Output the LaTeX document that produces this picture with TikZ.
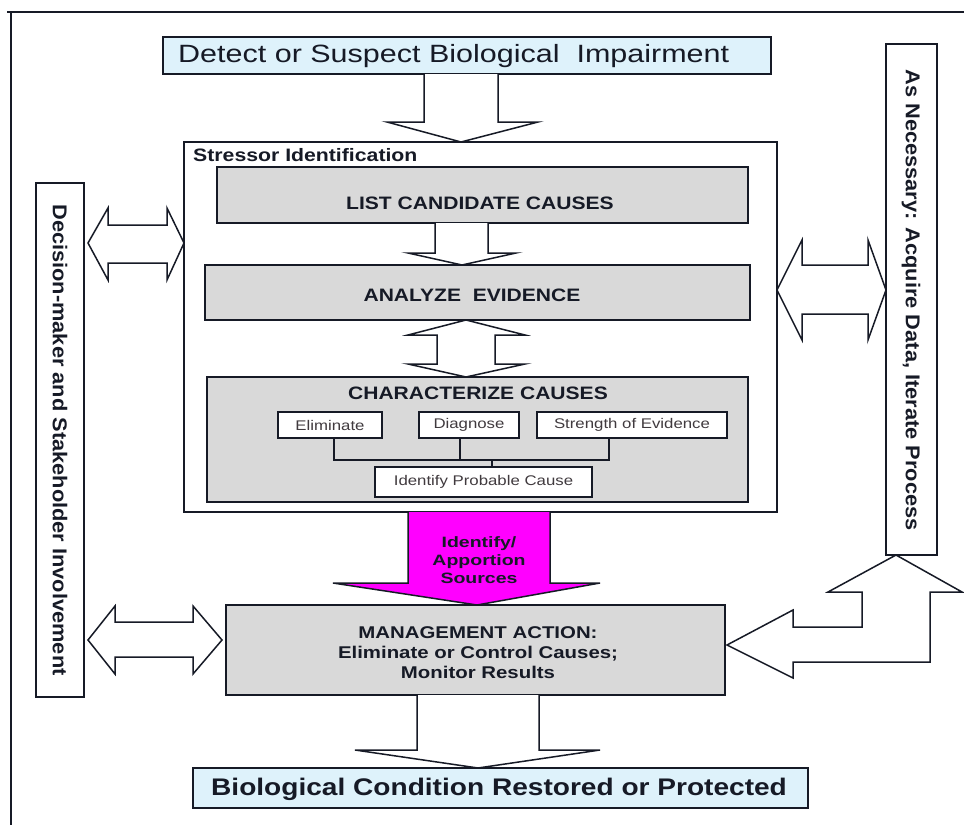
\documentclass[tikz,border=0pt]{standalone}
\usepackage{fontspec}
\setmainfont{Liberation Sans}
\usetikzlibrary{calc}
\definecolor{skyfill}{RGB}{222,242,251}
\definecolor{panelfill}{RGB}{217,217,217}
\definecolor{ink}{RGB}{22,26,38}
\definecolor{hotpink}{RGB}{255,0,255}
\definecolor{subtext}{RGB}{64,58,62}
\newcommand\wide[2]{\scalebox{#1}[1]{#2}}
\newcommand\pxfont[1]{\fontsize{#1}{#1}\selectfont}
\begin{document}
\begin{tikzpicture}[x=1pt,y=-1pt,line join=miter,
  frame/.style={draw=ink,line width=2pt,inner sep=0pt,outer sep=0pt},
  skybox/.style={frame,fill=skyfill},
  panel/.style={frame,fill=panelfill},
  whitebox/.style={frame,fill=white},
  subbox/.style={draw=ink,line width=1.6pt,fill=white,inner sep=0pt,outer sep=0pt},
  blockarrow/.style={draw=ink,line width=1.5pt,fill=white},
  tree/.style={draw=ink,line width=1.6pt},
  label/.style={text=ink,inner sep=0pt},
]
\useasboundingbox (0,0) rectangle (964,825);
\fill[white] (0,0) rectangle (964,825);

% outer frame
\draw[ink,line width=2.5pt] (7,12) -- (964,12);
\draw[ink,line width=2pt] (11,11) -- (11,825);

% boxes
\node[skybox,minimum width=608,minimum height=37] (detect) at (467,55.5) {};
\node[whitebox,line width=1.6pt,minimum width=593,minimum height=370] (stress) at (480.5,327) {};
\node[panel,minimum width=531,minimum height=56] (list) at (482.5,195) {};
\node[panel,minimum width=545,minimum height=55] (analyze) at (477.5,292.5) {};
\node[panel,minimum width=541,minimum height=125] (char) at (477.5,439.5) {};
\node[subbox,minimum width=104,minimum height=26] (elim) at (330,425) {};
\node[subbox,minimum width=100,minimum height=26] (diag) at (469,425) {};
\node[subbox,minimum width=190,minimum height=26] (strength) at (632,425) {};
\node[subbox,minimum width=217,minimum height=30] (ipc) at (483.5,482) {};
\node[panel,minimum width=499,minimum height=90] (mgmt) at (475.5,650) {};
\node[skybox,minimum width=615,minimum height=40] (restored) at (500.5,788) {};
\node[whitebox,minimum width=48,minimum height=514] (dm) at (60,440) {};
\node[whitebox,minimum width=51,minimum height=511] (acq) at (911.5,299.5) {};

% texts
\node[label,anchor=west,font=\pxfont{25}] (detecttxt) at (178,56) {\wide{1.22}{Detect or Suspect Biological\ \ Impairment}};
\node[label,anchor=west,font=\pxfont{18}\bfseries] (stresstxt) at (193,155) {\wide{1.18}{Stressor Identification}};
\node[label,font=\pxfont{18}\bfseries] (listtxt) at (480,203) {\wide{1.17}{LIST CANDIDATE CAUSES}};
\node[label,font=\pxfont{18}\bfseries] (analyzetxt) at (472,295) {\wide{1.17}{ANALYZE\ \ EVIDENCE}};
\node[label,font=\pxfont{18}\bfseries] (chartxt) at (478,393) {\wide{1.17}{CHARACTERIZE CAUSES}};
\node[label,text=subtext,font=\pxfont{14}] (elimtxt) at (elim) {\wide{1.2}{Eliminate}};
\node[label,text=subtext,font=\pxfont{14}] (diagtxt) at (diag) {\wide{1.2}{Diagnose}};
\node[label,text=subtext,font=\pxfont{14}] (strengthtxt) at (strength) {\wide{1.2}{Strength of Evidence}};
\node[label,text=subtext,font=\pxfont{14}] (ipctxt) at (ipc) {\wide{1.2}{Identify Probable Cause}};
\node[label,font=\pxfont{17}\bfseries,align=center] (mgmttxt) at (478,653)
  {\wide{1.2}{MANAGEMENT ACTION:}\\[3pt]\wide{1.2}{Eliminate or Control Causes;}\\[3pt]\wide{1.2}{Monitor Results}};
\node[label,anchor=west,font=\pxfont{24}\bfseries] (restoredtxt) at (211,789) {\wide{1.17}{Biological Condition Restored or Protected}};
\node[label,rotate=-90,font=\pxfont{20}\bfseries] (dmtxt) at (60,440) {\wide{1.09}{Decision-maker and Stakeholder Involvement}};
\node[label,rotate=-90,font=\pxfont{20}\bfseries] (acqtxt) at (911,300) {\wide{1.09}{As Necessary: Acquire Data, Iterate Process}};

% tree inside the characterize panel
\draw[tree] ([xshift=4pt]elim.south) -- ++(0,22) -| ([xshift=-23pt]strength.south);
\draw[tree] ([xshift=-9pt]diag.south) -- ++(0,22);
\draw[tree] ([xshift=8.5pt]ipc.north) -- ++(0,-7);

% block arrows
\draw[blockarrow] let \p1=(detect.south), \p2=(stress.north) in
  (424pt,\y1) -- (424pt,\y2+20pt) -- (387pt,\y2+20pt) -- (461pt,\y2) -- (538pt,\y2+20pt) -- (498pt,\y2+20pt) -- (498pt,\y1);
\draw[blockarrow] let \p1=(list.south), \p2=(analyze.north) in
  (435pt,\y1) -- (435pt,\y2+12pt) -- (408pt,\y2+12pt) -- (462pt,\y2) -- (516pt,\y2+12pt) -- (488pt,\y2+12pt) -- (488pt,\y1);
\draw[blockarrow] let \p1=(analyze.south), \p2=(char.north) in
  (466pt,\y1) -- (525pt,\y1-15pt) -- (495pt,\y1-15pt) -- (495pt,\y2+13pt) -- (525pt,\y2+13pt) -- (466pt,\y2)
  -- (408pt,\y2+13pt) -- (437pt,\y2+13pt) -- (437pt,\y1-15pt) -- (408pt,\y1-15pt) -- cycle;
\draw[blockarrow,fill=hotpink] let \p1=(stress.south), \p2=(mgmt.north) in
  (408pt,\y1) -- (408pt,\y2+22pt) -- (333pt,\y2+22pt) -- (477pt,\y2) -- (600pt,\y2+22pt) -- (550pt,\y2+22pt) -- (550pt,\y1);
\node[label,font=\pxfont{15}\bfseries,align=center] (sourcetxt) at (479,560)
  {\wide{1.3}{Identify/}\\[3pt]\wide{1.3}{Apportion}\\[3pt]\wide{1.3}{Sources}};
\draw[blockarrow] let \p1=(mgmt.south), \p2=(restored.north) in
  (417pt,\y1) -- (417pt,\y2+18pt) -- (355pt,\y2+18pt) -- (478pt,\y2) -- (600pt,\y2+18pt) -- (539pt,\y2+18pt) -- (539pt,\y1);
\draw[blockarrow] let \p1=(dm.east), \p2=(stress.west) in
  (\x1+4pt,-243pt) -- (108pt,-208pt) -- (108pt,-225pt) -- (167pt,-225pt) -- (167pt,-208pt) -- (\x2,-243pt)
  -- (167pt,-280pt) -- (167pt,-263pt) -- (108pt,-263pt) -- (108pt,-280pt) -- cycle;
\draw[blockarrow] let \p1=(dm.east), \p2=(mgmt.west) in
  (\x1+4pt,-640pt) -- (115pt,-606pt) -- (115pt,-622pt) -- (193pt,-622pt) -- (193pt,-606pt) -- (\x2-4pt,-640pt)
  -- (193pt,-674pt) -- (193pt,-657pt) -- (115pt,-657pt) -- (115pt,-674pt) -- cycle;
\draw[blockarrow] let \p1=(stress.east), \p2=(acq.west) in
  (\x1,-290pt) -- (802pt,-240pt) -- (802pt,-265pt) -- (868pt,-265pt) -- (868pt,-240pt) -- (\x2,-290pt)
  -- (868pt,-340pt) -- (868pt,-314pt) -- (802pt,-314pt) -- (802pt,-340pt) -- cycle;
\draw[blockarrow] let \p1=(acq.south), \p2=(mgmt.east) in
  (896pt,\y1) -- (962pt,-592pt) -- (930pt,-592pt) -- (930pt,-662pt) -- (793pt,-662pt) -- (793pt,-678pt)
  -- (\x2+2pt,-645pt) -- (793pt,-610pt) -- (793pt,-627pt) -- (862pt,-627pt) -- (862pt,-592pt) -- (828pt,-592pt) -- cycle;
\end{tikzpicture}
\end{document}
